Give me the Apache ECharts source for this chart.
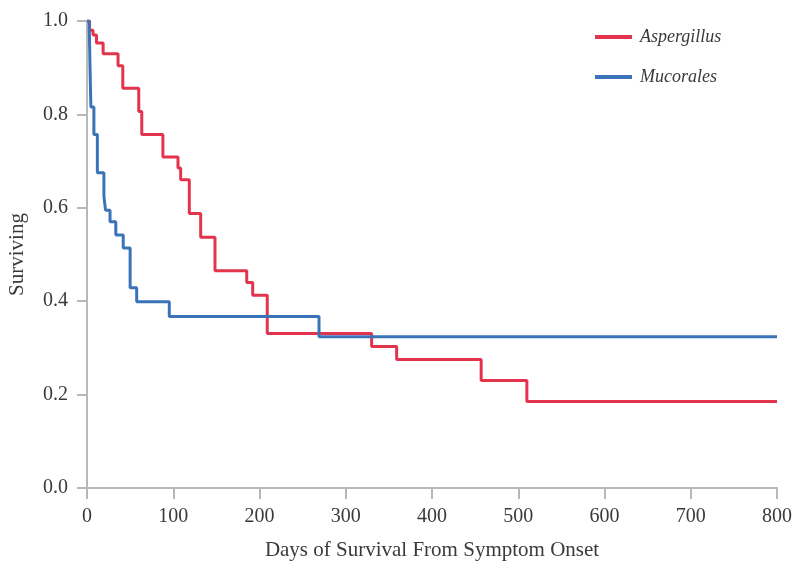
<!DOCTYPE html>
<html>
<head>
<meta charset="utf-8">
<script src="https://cdn.jsdelivr.net/npm/echarts@6/dist/echarts.min.js"></script>
<style>
html,body{margin:0;padding:0;background:#fff;}
#chart{width:794px;height:562px;}
</style>
</head>
<body>
<div id="chart"></div>
<script>
// Kaplan-Meier steps: day at which survival drops, and the new survival value
const aspergillusDays = [0, 3, 7, 11, 18.7, 36, 41.5, 60, 63.5, 88, 105.5, 108.6, 118.6, 131.8, 148.4, 185.2, 192.1, 209, 330, 359, 457, 510, 800];
const aspergillusSurv = [1.0, 0.98, 0.97, 0.953, 0.930, 0.904, 0.856, 0.806, 0.757, 0.709, 0.685, 0.660, 0.588, 0.537, 0.465, 0.440, 0.413, 0.331, 0.303, 0.275, 0.230, 0.185, 0.185];
const mucoralesDays = [0, 2.5, 3.5, 4.5, 8, 12, 19.6, 21.5, 26.7, 33.4, 42, 50, 57.6, 95.4, 269, 800];
const mucoralesSurv = [1.0, 1.0, 0.90, 0.816, 0.757, 0.675, 0.625, 0.595, 0.570, 0.542, 0.514, 0.429, 0.399, 0.367, 0.324, 0.324];
const xTicks = [0, 100, 200, 300, 400, 500, 600, 700, 800];
const yTicks = [0.0, 0.2, 0.4, 0.6, 0.8, 1.0];

const zip = (xs, ys) => xs.map((x, i) => [x, ys[i]]);
const font = '"Liberation Serif", "DejaVu Serif", serif';
const axisColor = '#b8b8b8';
const textColor = '#3a3a3a';

const chart = echarts.init(document.getElementById('chart'), null, {renderer: 'canvas'});
chart.setOption({
  animation: false,
  backgroundColor: '#fff',
  grid: {left: 87, right: 17, top: 21, bottom: 74, containLabel: false, outerBoundsMode: 'none'},
  legend: {
    orient: 'vertical',
    left: 595,
    top: 28,
    padding: 0,
    icon: 'rect',
    itemWidth: 37,
    itemHeight: 4,
    itemGap: 22,
    textStyle: {fontFamily: font, fontStyle: 'italic', fontSize: 18, color: textColor, padding: [0, 0, 0, 3]},
    data: ['Aspergillus', 'Mucorales']
  },
  xAxis: {
    type: 'value',
    min: xTicks[0],
    max: xTicks[xTicks.length - 1],
    interval: 100,
    name: 'Days of Survival From Symptom Onset',
    nameLocation: 'middle',
    nameGap: 52,
    nameTextStyle: {fontFamily: font, fontSize: 21, color: textColor},
    axisLine: {show: true, lineStyle: {color: axisColor, width: 2}},
    axisTick: {show: true, length: 11, lineStyle: {color: axisColor, width: 2}},
    axisLabel: {fontFamily: font, fontSize: 20, color: textColor, margin: 19},
    splitLine: {show: false}
  },
  yAxis: {
    type: 'value',
    min: yTicks[0],
    max: yTicks[yTicks.length - 1],
    interval: 0.2,
    name: 'Surviving',
    nameLocation: 'middle',
    nameGap: 59,
    nameRotate: 90,
    nameTextStyle: {fontFamily: font, fontSize: 21, color: textColor},
    axisLine: {show: true, lineStyle: {color: axisColor, width: 2}},
    axisTick: {show: true, length: 10, lineStyle: {color: axisColor, width: 2}},
    axisLabel: {fontFamily: font, fontSize: 20, color: textColor, margin: 19, formatter: v => v.toFixed(1)},
    splitLine: {show: false}
  },
  series: [
    {
      name: 'Aspergillus',
      type: 'line',
      step: 'end',
      showSymbol: false,
      color: '#e2354d',
      lineStyle: {width: 3, color: '#e2354d'},
      data: zip(aspergillusDays, aspergillusSurv),
      z: 2
    },
    {
      name: 'Mucorales',
      type: 'line',
      step: 'end',
      showSymbol: false,
      color: '#3b73b9',
      lineStyle: {width: 3, color: '#3b73b9'},
      data: zip(mucoralesDays, mucoralesSurv),
      z: 3
    }
  ]
});
</script>
</body>
</html>
